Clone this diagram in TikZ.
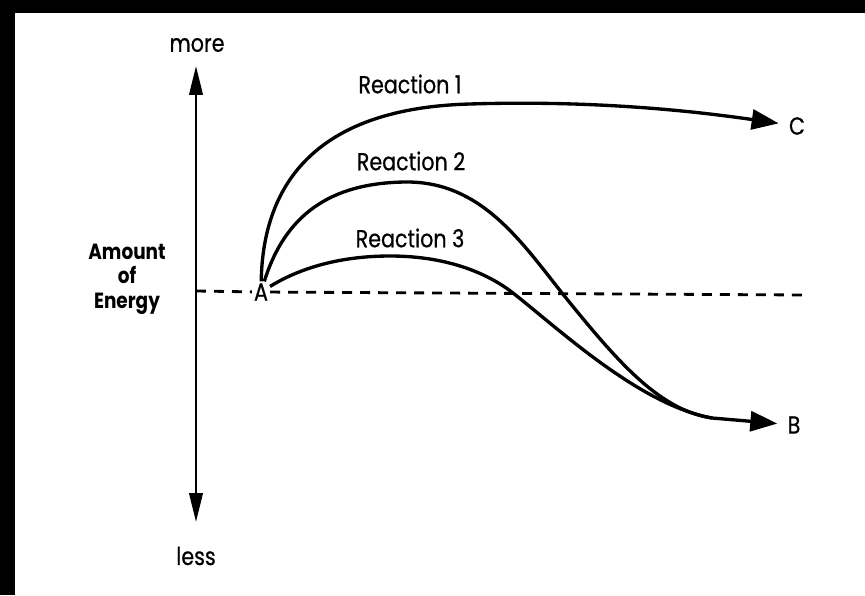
\documentclass[tikz,border=0pt]{standalone}
\usepackage{fontspec}
\setmainfont{Poppins}[FakeStretch=0.84, UprightFeatures={FakeBold=0.6}]
\usetikzlibrary{arrows.meta,positioning}

\begin{document}
\begin{tikzpicture}[
    x=0.02cm, y=-0.02cm,
    lbl/.style={font=\fontsize{14}{16}\selectfont, inner sep=1pt},
    endlbl/.style={lbl, inner sep=0.2cm},
    rxn/.style={line width=1.9pt},
    link/.style={rxn, -{Triangle[length=0.54cm, width=0.4cm]}},
    axisline/.style={line width=1.4pt, {Triangle[length=0.58cm, width=0.27cm]}-{Triangle[length=0.58cm, width=0.27cm]}},
    level/.style={line width=1.6pt, dash pattern=on 0.2cm off 0.16cm}
]
\useasboundingbox (0,0) rectangle (865,595);
% scan edges
\fill[black] (0,0) rectangle (865,13);
\fill[black] (0,0) rectangle (15,595);

% energy axis
\coordinate (etop) at (196,66);
\coordinate (ebot) at (196,522);
\coordinate (ebase) at (196,291);
\draw[axisline] (ebot) -- (etop);
\node[lbl] (more) at (197,45) {more};
\node[lbl] (less) at (196,556) {less};
\node[lbl, font=\fontsize{12.5}{14}\selectfont\bfseries, align=center] (amount) at (127,279) {Amount\\of\\Energy};

% states
\node[lbl] (A) at (261,292) {A};
\node[endlbl] (C) at (797,126) {C};
\node[endlbl] (B) at (794,425) {B};
\coordinate (lvlend) at (806,295);
\coordinate (merge) at (712,418);

\draw[level] (ebase) -- (A) -- (lvlend);

% reactions
\draw[link] (A) .. controls (263,180) and (320,108) .. (470,104)
    .. controls (600,100) and (700,112) .. (C);
\draw[rxn] (A) .. controls (285,215) and (330,183) .. (405,182)
    .. controls (480,181) and (520,240) .. (562,293)
    .. controls (620,365) and (660,410) .. (merge);
\draw[rxn] (A) .. controls (300,268) and (340,256) .. (390,256)
    .. controls (450,256) and (490,275) .. (513,293)
    .. controls (560,330) and (640,405) .. (merge);
\draw[link] (merge) -- (B);

\node[lbl] (r1) at (410,84) {Reaction 1};
\node[lbl] (r2) at (411,161) {Reaction 2};
\node[lbl] (r3) at (410,238) {Reaction 3};
\end{tikzpicture}
\end{document}
